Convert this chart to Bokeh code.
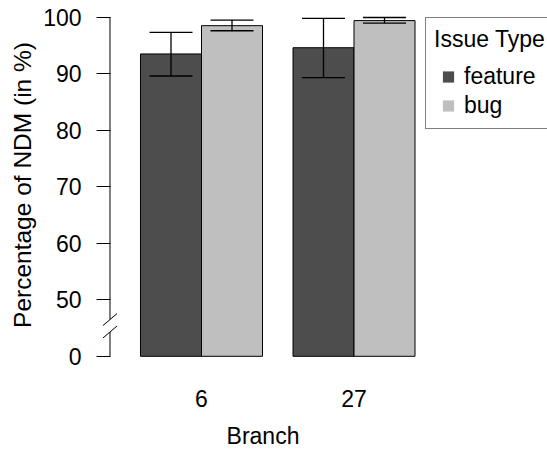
from bokeh.plotting import figure
from bokeh.layouts import row
from bokeh.models import (Range1d, FixedTicker, Whisker, TeeHead, ColumnDataSource,
                          Legend, LegendItem)
from bokeh.embed import file_html
from bokeh.resources import INLINE

# ---- data ----
branches = ["6", "27"]
issue_types = ["feature", "bug"]
feature_mean = [93.5, 94.6]
feature_lower = [89.6, 89.3]
feature_upper = [97.3, 99.8]
bug_mean = [98.5, 99.4]
bug_lower = [97.6, 98.95]
bug_upper = [99.5, 99.95]
colors = ["#4D4D4D", "#BFBFBF"]
y_ticks = [0, 50, 60, 70, 80, 90, 100]

FONT = "Liberation Sans"
FS = "23px"

# broken axis: values >= 50 plotted as-is, 0 drawn 10 units below 50
def t(v):
    return v if v >= 50 else 40 + v * 10.0 / 50.0

p = figure(width=425, height=455, x_range=Range1d(-0.1557, 5.172),
           y_range=Range1d(39.08, 101.54), output_backend="svg",
           toolbar_location=None, min_border_left=100, min_border_right=0,
           min_border_top=8, min_border_bottom=94)
p.outline_line_color = None
p.xgrid.visible = False
p.ygrid.visible = False
p.background_fill_color = "white"
p.border_fill_color = "white"

group_gap = 0.5
means = [feature_mean, bug_mean]
lowers = [feature_lower, bug_lower]
uppers = [feature_upper, bug_upper]

for s, name in enumerate(issue_types):
    xs = [1 + g * (2 + group_gap) + s for g in range(len(branches))]
    src = ColumnDataSource(dict(
        x=xs,
        top=[t(v) for v in means[s]],
        lo=[t(v) for v in lowers[s]],
        hi=[t(v) for v in uppers[s]],
    ))
    p.vbar(x="x", top="top", bottom=t(0), width=1.0, source=src,
           fill_color=colors[s], line_color="black", line_width=1)
    w = Whisker(base="x", upper="hi", lower="lo", source=src, dimension="height",
                line_color="black", line_width=1.3, level="annotation",
                upper_head=TeeHead(size=43, line_color="black", line_width=1.3),
                lower_head=TeeHead(size=43, line_color="black", line_width=1.3))
    p.add_layout(w)

# y axis
ya = p.yaxis[0]
ya.ticker = FixedTicker(ticks=[t(v) for v in y_ticks])
ya.major_label_overrides = {t(v): str(v) for v in y_ticks}
ya.axis_line_color = None
ya.major_tick_out = 4
ya.major_tick_in = 10
ya.major_tick_line_color = "black"
ya.minor_tick_line_color = None
ya.major_label_standoff = 15
ya.major_label_text_font = FONT
ya.major_label_text_font_size = FS
ya.major_label_text_color = "black"
ya.axis_label = "Percentage of NDM (in %)"
ya.axis_label_text_font = FONT
ya.axis_label_text_font_size = "24.5px"
ya.axis_label_text_font_style = "normal"
ya.axis_label_text_color = "black"
ya.axis_label_standoff = 4

# manual axis line with break marks
brk_hi, brk_lo = 46.5, 44.3
p.segment(x0=[0, 0], y0=[brk_hi, t(0)], x1=[0, 0], y1=[100, brk_lo],
          line_color="black", line_width=1)
dx, dy = 0.115, 1.06
p.segment(x0=[-dx, -dx], y0=[brk_hi - dy, brk_lo - dy], x1=[dx, dx],
          y1=[brk_hi + dy, brk_lo + dy], line_color="black", line_width=1)

# x axis
xa = p.xaxis[0]
centers = [1.5 + g * (2 + group_gap) for g in range(len(branches))]
xa.ticker = FixedTicker(ticks=centers)
xa.major_label_overrides = {c: b for c, b in zip(centers, branches)}
xa.axis_line_color = None
xa.major_tick_line_color = None
xa.minor_tick_line_color = None
xa.major_tick_out = 0
xa.major_tick_in = 0
xa.major_label_standoff = 28
xa.major_label_text_font = FONT
xa.major_label_text_font_size = FS
xa.major_label_text_color = "black"
xa.axis_label = "Branch"
xa.axis_label_text_font = FONT
xa.axis_label_text_font_size = FS
xa.axis_label_text_font_style = "normal"
xa.axis_label_text_color = "black"
xa.axis_label_standoff = 13

# legend panel (drawn outside the plot region, clipped at the page edge like the original)
p2 = figure(width=122, height=455, x_range=Range1d(0, 1), y_range=Range1d(0, 1),
            output_backend="svg", toolbar_location=None, x_axis_type=None,
            y_axis_type=None, min_border_left=0, min_border_right=0,
            min_border_top=0, min_border_bottom=0)
p2.outline_line_color = None
p2.xgrid.visible = False
p2.ygrid.visible = False
p2.background_fill_color = "white"
p2.border_fill_color = "white"

legend_items = []
for s, name in enumerate(issue_types):
    dummy = p2.scatter(x=[float("nan")], y=[float("nan")], marker="square", size=11,
                       fill_color=colors[s], line_color=None)
    legend_items.append(LegendItem(label=name, renderers=[dummy]))

legend = Legend(items=legend_items, location=(0, 232), title="Issue Type",
                title_text_font=FONT, title_text_font_size=FS,
                title_text_font_style="normal", title_text_color="black",
                title_standoff=9,
                label_text_font=FONT, label_text_font_size=FS,
                label_text_color="black", label_standoff=2,
                glyph_width=28, glyph_height=29, spacing=0, padding=8,
                margin=0, border_line_color="black", border_line_width=1,
                background_fill_color="white", background_fill_alpha=1)
p2.add_layout(legend)

layout = row(p, p2)
open("out.html", "w").write(file_html(layout, INLINE))
